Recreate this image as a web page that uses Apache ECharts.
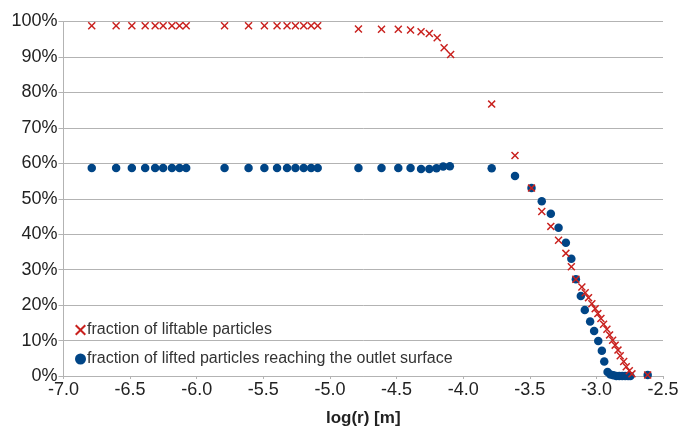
<!DOCTYPE html>
<html>
<head>
<meta charset="utf-8">
<script src="https://cdn.jsdelivr.net/npm/echarts@6/dist/echarts.min.js"></script>
<style>
html,body{margin:0;padding:0;background:#fff;}
#c{width:682px;height:432px;}
</style>
</head>
<body>
<div id="c"></div>
<script>
var redName = 'fraction of liftable particles';
var blueName = 'fraction of lifted particles reaching the outlet surface';

var redX = [-6.788,-6.605,-6.487,-6.387,-6.312,-6.252,-6.186,-6.129,-6.079,
  -5.791,-5.611,-5.492,-5.397,-5.322,-5.259,-5.197,-5.141,-5.092,
  -4.786,-4.613,-4.487,-4.395,-4.316,-4.254,-4.195,-4.143,-4.094,
  -3.786,-3.611,-3.487,-3.410,-3.342,-3.284,-3.229,-3.188,-3.154,
  -3.109,-3.084,-3.059,-3.034,-3.009,-2.989,-2.966,-2.946,-2.921,-2.901,
  -2.878,-2.859,-2.838,-2.821,-2.795,-2.776,-2.753,-2.733,-2.615];
var redY = [98.8,98.8,98.8,98.8,98.8,98.8,98.8,98.8,98.8,
  98.8,98.8,98.8,98.8,98.8,98.8,98.8,98.8,98.8,
  97.9,97.8,97.8,97.6,97.1,96.6,95.4,92.6,90.7,
  76.7,62.2,53.0,46.4,42.2,38.3,34.6,30.8,27.3,
  25.1,23.5,22.1,20.4,19.0,17.6,16.2,14.6,13.2,11.6,
  10.1,8.7,7.3,5.7,4.1,2.6,1.5,0.6,0.3];

var blueX = [-6.788,-6.605,-6.487,-6.387,-6.312,-6.252,-6.186,-6.129,-6.079,
  -5.791,-5.611,-5.492,-5.397,-5.322,-5.259,-5.197,-5.141,-5.092,
  -4.786,-4.613,-4.487,-4.395,-4.316,-4.254,-4.200,-4.150,-4.100,
  -3.786,-3.611,-3.487,-3.410,-3.342,-3.284,-3.229,-3.188,-3.154,
  -3.117,-3.087,-3.047,-3.017,-2.986,-2.959,-2.941,-2.916,
  -2.895,-2.872,-2.850,-2.828,-2.806,-2.784,-2.762,-2.745,-2.615];
var blueY = [58.7,58.7,58.7,58.7,58.7,58.7,58.7,58.7,58.7,
  58.7,58.7,58.7,58.7,58.7,58.7,58.7,58.7,58.7,
  58.7,58.7,58.7,58.7,58.4,58.4,58.6,59.1,59.2,
  58.6,56.4,53.0,49.3,45.8,41.8,37.6,33.1,27.3,
  22.6,18.6,15.4,12.7,9.9,7.1,4.1,1.1,
  0.4,0.2,0,0,0,0,0,0,0.3];

var xMin = -7.0, xMax = -2.5, xStep = 0.5;
var yMin = 0, yMax = 100, yStep = 10;

function pairs(xs, ys){ return xs.map(function(x,i){ return [x, ys[i]]; }); }

var crossPath = 'path://M0,1.3 L1.3,0 L5,3.7 L8.7,0 L10,1.3 L6.3,5 L10,8.7 L8.7,10 L5,6.3 L1.3,10 L0,8.7 L3.7,5 Z';
var redColor = '#c9211e';
var blueColor = '#004586';
var gridColor = '#b3b3b3';
var textColor = '#222';
var font = 'Liberation Sans';

var chart = echarts.init(document.getElementById('c'), null, {renderer:'canvas'});
chart.setOption({
  animation: false,
  backgroundColor: '#fff',
  textStyle: {fontFamily: font},
  grid: {left: 63.5, right: 19, top: 21.5, bottom: 54, containLabel: false},
  legend: {
    orient: 'vertical',
    left: 70, top: 317,
    itemGap: 13,
    itemWidth: 11, itemHeight: 11,
    textStyle: {fontFamily: font, fontSize: 16, color: '#333', padding: [0,0,0,-4]},
    data: [
      {name: redName, icon: crossPath},
      {name: blueName, icon: 'circle'}
    ]
  },
  xAxis: {
    type: 'value',
    min: xMin, max: xMax, interval: xStep,
    name: 'log(r) [m]',
    nameLocation: 'middle',
    nameGap: 34,
    nameTextStyle: {fontFamily: font, fontSize: 17, fontWeight: 'bold', color: textColor},
    axisLine: {show: true, lineStyle: {color: gridColor}},
    axisTick: {show: true, length: 3, lineStyle: {color: gridColor}},
    splitLine: {show: false},
    axisLabel: {fontFamily: font, fontSize: 18, color: textColor, margin: 5,
      formatter: function(v){ return v.toFixed(1); }}
  },
  yAxis: {
    type: 'value',
    min: yMin, max: yMax, interval: yStep,
    axisLine: {show: true, lineStyle: {color: gridColor}},
    axisTick: {show: true, length: 5, lineStyle: {color: gridColor}},
    splitLine: {show: true, lineStyle: {color: gridColor, width: 1}},
    axisLabel: {fontFamily: font, fontSize: 18, color: textColor, margin: 6,
      formatter: '{value}%'}
  },
  series: [
    {
      name: blueName, type: 'scatter',
      symbol: 'circle', symbolSize: 8.5,
      itemStyle: {color: blueColor, opacity: 1},
      data: pairs(blueX, blueY), z: 2
    },
    {
      name: redName, type: 'scatter',
      symbol: crossPath, symbolSize: 8,
      itemStyle: {color: redColor, opacity: 1},
      data: pairs(redX, redY), z: 3
    }
  ]
});
</script>
</body>
</html>
